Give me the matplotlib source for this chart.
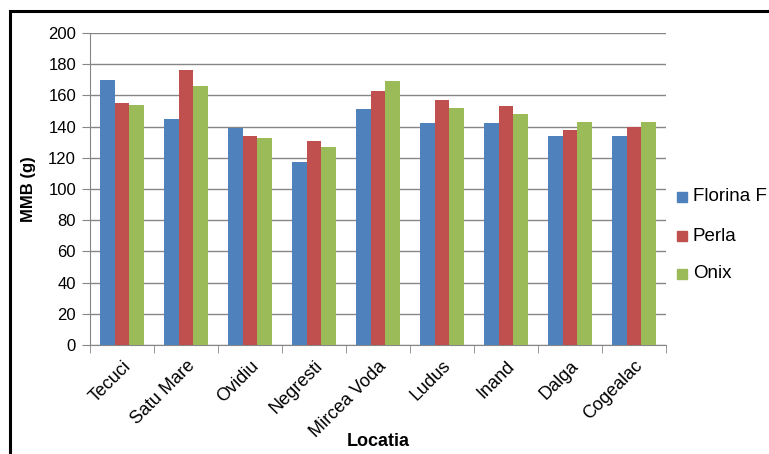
import numpy as np
import matplotlib
matplotlib.use("Agg")
import matplotlib.pyplot as plt
from matplotlib.patches import Rectangle

plt.rcParams['font.family'] = ['Liberation Sans', 'DejaVu Sans']

# Data
locations = ["Tecuci", "Satu Mare", "Ovidiu", "Negresti", "Mircea Voda",
             "Ludus", "Inand", "Dalga", "Cogealac"]
florina_f = [170, 145, 139, 117, 151, 142, 142, 134, 134]
perla = [155, 176, 134, 131, 163, 157, 153, 138, 140]
onix = [154, 166, 133, 127, 169, 152, 148, 143, 143]
series_names = ["Florina F", "Perla", "Onix"]
colors = ["#4F81BD", "#C0504D", "#9BBB59"]


def plot_chart():
    fig = plt.figure(figsize=(7.69, 4.54), dpi=100)
    fig.patch.set_facecolor("white")
    W, H = 769, 454

    # outer chart border (cropped at right/bottom like the reference)
    fig.patches.append(Rectangle((10 / W, -0.1), 1.2, 1 - 11 / H + 0.1,
                                 transform=fig.transFigure, fill=False,
                                 edgecolor="black", linewidth=2.2))

    ax = fig.add_axes([90 / W, 1 - 345 / H, (666 - 90) / W, (345 - 33) / H])
    x = np.arange(len(locations))
    w = 0.225
    for i, (vals, c) in enumerate(zip([florina_f, perla, onix], colors)):
        ax.bar(x + (i - 1) * w, vals, w, color=c, label=series_names[i], zorder=3)

    ax.set_xlim(-0.5, len(locations) - 0.5)
    ax.set_ylim(0, 200)
    ax.set_yticks(range(0, 201, 20))
    ax.grid(axis='y', color="#868686", linewidth=1.0, zorder=0)

    ax.set_xticks(x)
    ax.set_xticklabels(locations, rotation=45, ha='right', rotation_mode='anchor',
                       fontsize=13)
    ax.set_xticks(np.arange(-0.5, len(locations)), minor=True)
    ax.tick_params(axis='x', which='major', length=0, pad=9)
    ax.tick_params(axis='x', which='minor', length=6, color="#868686", direction='out')
    ax.tick_params(axis='y', length=6, color="#868686", labelsize=12, pad=4)

    for s in ["top", "right"]:
        ax.spines[s].set_visible(False)
    for s in ["left", "bottom"]:
        ax.spines[s].set_color("#868686")

    ax.set_ylabel("MMB (g)", fontsize=12, fontweight='bold', labelpad=9)
    fig.text(378 / W, 1 - 442 / H, "Locatia", fontsize=13, fontweight='bold',
             ha='center', va='center')

    # legend on the right, partially cut by the figure edge
    legend_y = [197, 236, 274]
    for name, c, ly in zip(series_names, colors, legend_y):
        fig.patches.append(Rectangle((677 / W, 1 - (ly + 5) / H), 10 / W, 10 / H,
                                     transform=fig.transFigure, color=c))
        fig.text(693 / W, 1 - ly / H, name, fontsize=13.5, va='center', ha='left')

    fig.savefig("out.png", dpi=100)


if __name__ == "__main__":
    plot_chart()
